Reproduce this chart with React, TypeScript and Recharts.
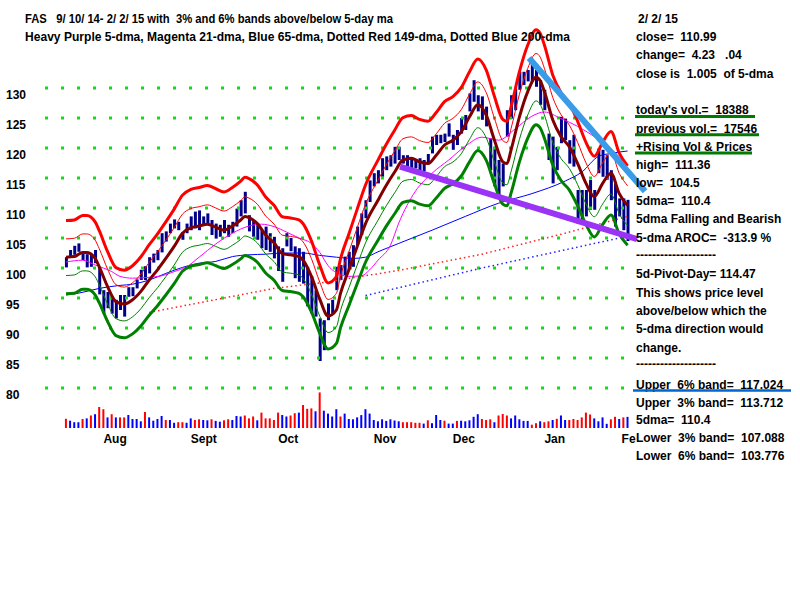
import React from 'react';
import { ComposedChart, Bar, Line, XAxis, YAxis, ReferenceLine, Cell } from 'recharts';

const FONT = '"Liberation Sans", Arial, sans-serif';

const MONTHS = ['Aug', 'Sept', 'Oct', 'Nov', 'Dec', 'Jan', 'Fe'];
const MONTH_START = [9, 30, 51, 74, 93, 115, 135];
const PRICE_TICKS = [80, 85, 90, 95, 100, 105, 110, 115, 120, 125, 130];

const HIGH = [101.8, 103.0, 103.7, 104.1, 102.6, 102.3, 102.2, 103.0, 100.0, 96.3,
  96.0, 95.3, 94.7, 95.5, 95.5, 96.8, 96.8, 98.1, 99.7, 100.3,
  101.8, 102.4, 103.0, 105.8, 106.1, 107.4, 108.1, 107.7, 106.0, 107.4,
  108.6, 109.4, 109.6, 108.6, 109.1, 108.0, 107.4, 107.2, 108.0, 107.2,
  107.7, 109.9, 111.3, 112.7, 108.8, 108.0, 107.4, 106.3, 106.9, 105.8,
  105.2, 103.6, 103.3, 105.8, 105.0, 103.6, 103.3, 102.7, 100.2, 98.6,
  96.3, 91.6, 91.3, 94.1, 94.7, 100.2, 100.5, 101.9, 102.7, 103.8,
  106.9, 109.1, 111.3, 114.6, 115.8, 116.3, 118.3, 118.6, 118.8, 120.2,
  120.2, 118.8, 118.8, 118.3, 118.0, 118.3, 118.0, 119.0, 121.9, 122.2,
  122.2, 122.4, 124.1, 122.2, 123.0, 125.0, 125.5, 129.1, 131.3, 128.8,
  128.6, 126.9, 121.6, 120.2, 118.0, 117.4, 126.3, 128.8, 129.9, 132.7,
  132.7, 133.0, 134.1, 133.0, 131.3, 129.7, 122.4, 121.9, 120.2, 125.2,
  124.9, 121.3, 122.2, 113.0, 113.0, 113.0, 114.7, 113.0, 119.9, 119.7,
  118.8, 116.3, 114.1, 111.6, 111.6, 111.36];

const LOW = [100.1, 101.8, 102.2, 102.7, 101.3, 100.1, 100.2, 100.8, 95.6, 92.4,
  93.3, 92.4, 91.6, 93.0, 91.9, 95.2, 95.3, 96.6, 98.0, 98.0,
  99.1, 100.9, 101.3, 102.6, 104.4, 105.8, 106.6, 106.3, 104.7, 105.8,
  106.3, 106.6, 106.3, 107.2, 107.4, 105.5, 104.9, 105.2, 105.8, 105.2,
  105.8, 106.9, 108.6, 109.1, 106.1, 105.2, 104.7, 103.3, 103.0, 102.7,
  101.6, 99.5, 97.7, 103.6, 102.8, 98.3, 97.7, 97.4, 93.6, 92.4,
  91.9, 84.5, 86.3, 91.3, 92.4, 96.3, 98.0, 98.8, 99.7, 100.2,
  103.8, 105.5, 108.3, 111.0, 113.6, 114.1, 115.2, 116.3, 116.9, 117.4,
  118.0, 117.4, 116.9, 116.6, 116.6, 116.3, 116.1, 117.3, 119.1, 120.5,
  120.8, 121.0, 121.9, 119.7, 120.5, 122.4, 123.0, 126.1, 127.7, 126.1,
  124.7, 123.6, 116.3, 113.6, 111.9, 113.6, 121.9, 124.9, 126.3, 129.7,
  130.5, 131.1, 131.1, 130.2, 127.2, 126.3, 118.0, 114.1, 116.3, 120.8,
  121.3, 117.4, 116.9, 107.4, 107.7, 108.6, 109.7, 109.7, 115.8, 115.2,
  114.7, 111.3, 106.9, 108.6, 106.3, 104.5];

const VOLUME = [15180, 12045, 9570, 9570, 14850, 15840, 20625, 22770, 34650, 31020,
  17490, 22770, 17490, 17490, 17490, 21450, 14850, 14850, 11055, 26400,
  17490, 12045, 14850, 19800, 13200, 13200, 8580, 9570, 9570, 8580,
  15840, 13200, 14355, 13200, 12705, 14355, 11715, 10395, 12705, 14355,
  13200, 19800, 18975, 20625, 15840, 18975, 12705, 25410, 15840, 15840,
  13200, 25410, 21450, 18975, 20625, 24420, 25410, 37950, 31680, 32340,
  27555, 58740, 28545, 23760, 18975, 31020, 18975, 23760, 14850, 14355,
  17490, 21285, 31020, 23760, 13200, 11055, 14355, 11715, 14355, 12375,
  11055, 9570, 9570, 9570, 8580, 8580, 7260, 12705, 7920, 21450,
  13200, 12045, 7260, 7260, 11715, 12045, 11055, 12705, 18480, 22770,
  14850, 13200, 14355, 9570, 20625, 23100, 20625, 15840, 20625, 14355,
  11715, 11715, 5445, 7920, 11055, 9570, 11055, 13200, 15180, 20625,
  13200, 13200, 14850, 13200, 17490, 25410, 22275, 15840, 11055, 17490,
  6930, 14355, 18480, 14850, 17546, 18388];

const VOL_COLOR = ['r', 'b', 'b', 'b', 'r', 'b', 'r', 'b', 'r', 'r',
  'b', 'r', 'b', 'r', 'r', 'b', 'b', 'b', 'b', 'r',
  'b', 'b', 'b', 'b', 'r', 'b', 'b', 'r', 'r', 'b',
  'b', 'r', 'r', 'b', 'b', 'r', 'b', 'b', 'r', 'r',
  'b', 'b', 'b', 'r', 'r', 'r', 'b', 'r', 'r', 'r',
  'r', 'r', 'b', 'b', 'r', 'r', 'b', 'r', 'r', 'r',
  'b', 'r', 'b', 'b', 'b', 'b', 'r', 'b', 'b', 'b',
  'b', 'b', 'b', 'b', 'b', 'b', 'b', 'b', 'b', 'b',
  'b', 'r', 'r', 'r', 'r', 'r', 'b', 'r', 'b', 'b',
  'b', 'r', 'b', 'b', 'r', 'b', 'b', 'b', 'b', 'b',
  'r', 'r', 'r', 'b', 'r', 'r', 'r', 'b', 'b', 'b',
  'b', 'b', 'r', 'r', 'b', 'r', 'r', 'b', 'r', 'b',
  'b', 'r', 'r', 'r', 'r', 'r', 'r', 'b', 'b', 'b',
  'b', 'r', 'r', 'b', 'r', 'b'];

const MA5 = [[0, 101.8], [2, 101.9], [4, 102.6], [5, 102.6], [7, 101.6], [8, 100.2], [10, 96.9], [12, 94.4],
  [14, 94.0], [16, 94.7], [18, 96.1], [20, 98.0], [22, 99.7], [24, 101.6], [26, 103.6], [28, 105.8],
  [30, 106.7], [32, 107.0], [34, 107.3], [36, 106.8], [38, 106.3], [40, 107.0], [42, 108.0], [43, 108.6],
  [44, 108.4], [46, 107.4], [48, 105.5], [50, 104.2], [52, 102.4], [54, 102.2], [56, 101.9], [57, 101.3],
  [59, 98.6], [61, 94.8], [63, 92.0], [65, 93.0], [66, 95.8], [68, 99.7], [70, 103.6], [72, 107.4],
  [75, 111.3], [77, 113.8], [79, 116.0], [81, 118.0], [83, 118.3], [85, 117.7], [87, 117.4], [89, 118.8],
  [91, 120.5], [93, 121.3], [95, 122.7], [97, 125.2], [99, 127.2], [101, 125.5], [103, 121.3], [105, 117.7],
  [106, 117.4], [107, 119.7], [109, 125.2], [111, 129.4], [113, 131.8], [114, 131.2], [115, 129.4], [117, 124.7],
  [119, 121.9], [121, 120.2], [123, 117.4], [125, 114.1], [127, 111.9], [129, 114.1], [131, 115.8], [133, 112.4],
  [135, 110.4]];

const MA21 = [[0, 101.0], [4, 101.3], [7, 100.5], [11, 99.4], [13, 98.6], [16, 98.3], [19, 98.4], [23, 98.7],
  [26, 99.4], [29, 100.2], [32, 101.8], [36, 104.0], [40, 105.8], [44, 107.0], [47, 107.3], [50, 106.9],
  [53, 106.0], [56, 105.0], [59, 104.1], [61, 102.6], [63, 100.4], [66, 98.9], [68, 98.6], [71, 98.7],
  [73, 99.7], [75, 101.3], [78, 103.8], [80, 107.5], [84, 112.8], [88, 115.8], [92, 118.0], [96, 120.3],
  [100, 121.8], [104, 121.3], [108, 123.2], [112, 125.3], [115, 126.0], [119, 124.9], [123, 123.6],
  [127, 121.9], [131, 119.9], [135, 117.0]];

const MA65 = [[0, 95.5], [3, 95.8], [8, 96.6], [13, 97.1], [16, 97.3], [20, 98.0], [24, 99.1], [28, 100.1],
  [32, 100.8], [36, 101.1], [40, 101.9], [44, 102.2], [48, 102.3], [52, 102.5], [57, 102.5], [61, 102.1],
  [65, 101.8], [69, 101.6], [72, 101.8], [75, 102.7], [80, 104.1], [88, 106.3], [96, 108.6], [104, 110.8],
  [112, 112.4], [120, 114.5], [124, 116.0], [128, 118.6], [131, 119.1], [135, 119.5]];

const MA149 = [[20, 92.6], [50, 96.6], [62, 97.6], [80, 99.6], [100, 102.3], [120, 105.8], [135, 108.6]];
const MA200 = [[72, 95.4], [100, 100.0], [135, 105.3]];

const BLUE_TREND = [{ x: 111.3, y: 135.0 }, { x: 139.2, y: 112.8 }];
const PURPLE_TREND = [{ x: 80.3, y: 116.9 }, { x: 137.3, y: 104.8 }];

const TITLE = [
  'FAS   9/ 10/ 14- 2/ 2/ 15 with  3% and 6% bands above/below 5-day ma',
  'Heavy Purple 5-dma, Magenta 21-dma, Blue 65-dma, Dotted Red 149-dma, Dotted Blue 200-dma',
];

const PANEL: [string, number][] = [
  ['close=  110.99', 36.7],
  ['change=  4.23   .04', 55],
  ['close is  1.005  of 5-dma', 73.5],
  ["today's vol.=  18388", 109.5],
  ['previous vol.=  17546', 128.3],
  ['+Rising Vol & Prices', 146.7],
  ['high=  111.36', 164.5],
  ['low=  104.5', 182.5],
  ['5dma=  110.4', 200.5],
  ['5dma Falling and Bearish', 219],
  ['5-dma AROC=  -313.9 %', 237.3],
  ['--------------------', 255],
  ['5d-Pivot-Day= 114.47', 273.3],
  ['This shows price level', 292.8],
  ['above/below which the', 311],
  ['5-dma direction would', 329],
  ['change.', 347.7],
  ['--------------------', 364],
  ['Upper  6% band=  117.024', 384.3],
  ['Upper  3% band=  113.712', 402.3],
  ['5dma=  110.4', 420],
  ['Lower  3% band=  107.088', 437.5],
  ['Lower  6% band=  103.776', 456],
];

const toMap = (pts: number[][]) => {
  const m: Record<number, number> = {};
  pts.forEach(([i, v]) => { m[i] = v; });
  return m;
};

const m5 = toMap(MA5);
const m21 = toMap(MA21);
const m65 = toMap(MA65);
const m149 = toMap(MA149);
const m200 = toMap(MA200);

const rows = HIGH.map((h, i) => {
  const ma5 = m5[i] ?? null;
  return {
    i,
    hl: [LOW[i], h],
    vol: VOLUME[i],
    ma5,
    u6: ma5 == null ? null : ma5 * 1.06,
    u3: ma5 == null ? null : ma5 * 1.03,
    l3: ma5 == null ? null : ma5 * 0.97,
    l6: ma5 == null ? null : ma5 * 0.94,
    ma21: m21[i] ?? null,
    ma65: m65[i] ?? null,
    ma149: m149[i] ?? null,
    ma200: m200[i] ?? null,
  };
});

const MonthTick = (props: any) => {
  const { x, payload } = props;
  const k = MONTH_START.indexOf(payload.value);
  if (k < 0) return null;
  const last = k === MONTHS.length - 1;
  return (
    <text x={last ? x - 6 : x} y={443} fontFamily={FONT} fontSize={12} fontWeight="bold" fill="#000" textAnchor="start">
      {MONTHS[k]}
    </text>
  );
};

const PriceTick = (props: any) => {
  const { y, payload } = props;
  return (
    <text x={6} y={y + 10.5} fontFamily={FONT} fontSize={12} fontWeight="bold" fill="#000" textAnchor="start">
      {payload.value}
    </text>
  );
};

const line = (key: string, color: string, width: number, opts: any = {}) => (
  <Line
    key={key}
    xAxisId="p"
    yAxisId="p"
    dataKey={key}
    stroke={color}
    strokeWidth={width}
    dot={false}
    activeDot={false}
    connectNulls
    type={opts.type ?? 'monotone'}
    strokeDasharray={opts.dash}
    isAnimationActive={false}
    strokeLinejoin="round"
  />
);

export default function App() {
  const txt = { fontFamily: FONT, fontSize: 12, fontWeight: 'bold' as const, fill: '#000', whiteSpace: 'pre' as const };
  return (
    <div style={{ position: 'relative', width: 800, height: 600, background: '#fff' }}>
      <style>{'body{margin:0;background:#fff}'}</style>
      <ComposedChart width={800} height={600} data={rows} margin={{ top: 28, right: 170, bottom: 134, left: 0 }}>
        <XAxis xAxisId="p" dataKey="i" type="number" domain={[-5.05, 135.58]} allowDataOverflow ticks={MONTH_START}
          interval={0} tick={<MonthTick />} axisLine={false} tickLine={false} height={30} />
        <XAxis xAxisId="v" dataKey="i" type="number" domain={[-5.05, 135.58]} allowDataOverflow hide />
        <YAxis yAxisId="p" type="number" domain={[72, 140]} allowDataOverflow ticks={PRICE_TICKS} interval={0}
          tick={<PriceTick />} axisLine={false} tickLine={false} width={45} />
        <YAxis yAxisId="v" type="number" domain={[-13200, 660000]} allowDataOverflow hide />
        {PRICE_TICKS.map((v) => (
          <ReferenceLine key={'g' + v} xAxisId="p" yAxisId="p" y={v} stroke="#11dd11" strokeWidth={3} strokeDasharray="3 13" />
        ))}
        <Bar xAxisId="v" yAxisId="v" dataKey="vol" barSize={2} isAnimationActive={false}>
          {rows.map((r, k) => (
            <Cell key={k} fill={VOL_COLOR[k] === 'r' ? '#ff0000' : '#0000ff'} />
          ))}
        </Bar>
        {line('ma149', '#ff2222', 1.5, { type: 'linear', dash: '1.5 3' })}
        {line('ma200', '#2222ff', 1.5, { type: 'linear', dash: '1.5 3' })}
        {line('ma65', '#0000ff', 1)}
        {line('ma21', '#ff00ff', 1)}
        {line('u3', '#ff0000', 1)}
        {line('l3', '#008000', 1)}
        {line('u6', '#ff0000', 3)}
        {line('l6', '#008000', 3)}
        {line('ma5', '#800000', 3)}
        <Bar xAxisId="p" yAxisId="p" dataKey="hl" barSize={3} fill="#00008b" isAnimationActive={false} />
        <ReferenceLine xAxisId="p" yAxisId="p" segment={PURPLE_TREND} stroke="#9a33f5" strokeWidth={6} ifOverflow="visible" />
        <ReferenceLine xAxisId="p" yAxisId="p" segment={BLUE_TREND} stroke="#3a9be8" strokeWidth={6} ifOverflow="visible" />
      </ComposedChart>
      <svg width={800} height={600} style={{ position: 'absolute', left: 0, top: 0, pointerEvents: 'none' }}>
        <text x={25} y={22.6} textLength={368} lengthAdjust="spacingAndGlyphs" style={txt}>{TITLE[0]}</text>
        <text x={25} y={40.8} textLength={545} lengthAdjust="spacingAndGlyphs" style={txt}>{TITLE[1]}</text>
        <text x={638} y={22.6} style={txt}>2/ 2/ 15</text>
        {PANEL.map(([t, y], k) => (
          <text key={k} x={636} y={y + 4.3} style={txt}>{t}</text>
        ))}
        <line x1={635} x2={755} y1={116.5} y2={116.5} stroke="#007a00" strokeWidth={3} />
        <line x1={635} x2={759} y1={134.8} y2={134.8} stroke="#007a00" strokeWidth={3} />
        <line x1={635} x2={752} y1={153} y2={153} stroke="#007a00" strokeWidth={3} />
        <line x1={633} x2={791} y1={390.5} y2={390.5} stroke="#0066d0" strokeWidth={2.5} />
      </svg>
    </div>
  );
}
